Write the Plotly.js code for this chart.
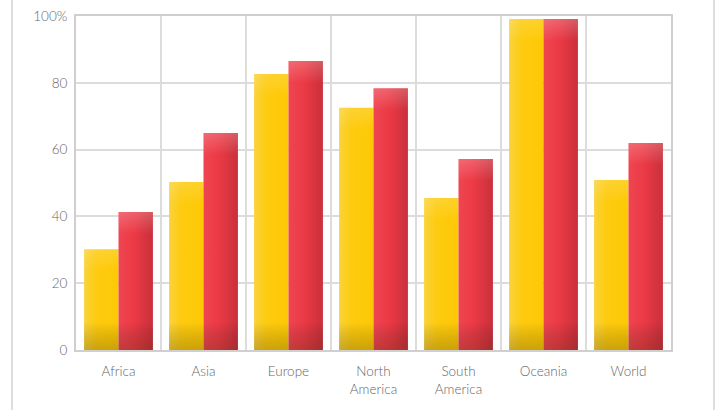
<!DOCTYPE html>
<html>
<head>
<meta charset="utf-8">
<script src="https://cdn.plot.ly/plotly-3.0.1.min.js"></script>
<style>
  html, body { margin: 0; padding: 0; background: #ffffff; }
  #wrap { position: relative; width: 717px; height: 410px; }
  #frame { position: absolute; left: 11px; top: 0; width: 700px; height: 410px;
           border-left: 2px solid #dedede; border-right: 2px solid #dedede; pointer-events: none; }
  #chart { position: absolute; left: 0; top: 0; width: 717px; height: 410px; }
</style>
</head>
<body>
<div id="wrap">
  <div id="frame"></div>
  <div id="chart"></div>
</div>
<script>
// Regions and the two percentage series
const regions = ["Africa", "Asia", "Europe", "North<br>America", "South<br>America", "Oceania", "World"];
const seriesA = [30.2, 50.3, 82.6, 72.5, 45.5, 99.1, 50.9];
const seriesB = [41.3, 65.0, 86.5, 78.4, 57.2, 99.1, 62.0];
const yTickVals = [0, 20, 40, 60, 80, 100];
const yTickText = ["0", "20", "40", "60", "80", "100%"];

const xLabelFont = { family: "Lato, 'Open Sans', sans-serif", size: 13.5, color: "#666666", weight: 300 };
const yLabelFont = { family: "Lato, 'Open Sans', sans-serif", size: 13.5, color: "#666666", weight: 300 };

const traces = [
  { type: "bar", x: regions, y: seriesA, name: "A",
    marker: { color: "#FDCB0B", line: { width: 0 } }, hoverinfo: "y" },
  { type: "bar", x: regions, y: seriesB, name: "B",
    marker: { color: "#EC3A45", line: { width: 0 } }, hoverinfo: "y" }
];

const layout = {
  width: 717, height: 410,
  margin: { l: 76, r: 46, t: 16, b: 60 },
  paper_bgcolor: "rgba(0,0,0,0)",
  plot_bgcolor: "rgba(0,0,0,0)",
  showlegend: false,
  barmode: "group",
  bargap: 0.19,
  bargroupgap: 0,
  xaxis: {
    type: "category",
    tickson: "boundaries",
    ticks: "",
    showgrid: true, gridcolor: "#dcdcdc", gridwidth: 2,
    showline: true, linecolor: "#cfcfcf", linewidth: 2, mirror: true,
    tickfont: xLabelFont,
    ticklabelstandoff: 8,
    fixedrange: true
  },
  yaxis: {
    range: [0, 100],
    tickvals: yTickVals, ticktext: yTickText,
    ticks: "",
    showgrid: true, gridcolor: "#dcdcdc", gridwidth: 2,
    zeroline: false,
    showline: true, linecolor: "#cfcfcf", linewidth: 2, mirror: true,
    tickfont: yLabelFont,
    ticklabelstandoff: 4,
    fixedrange: true
  }
};

// Glossy shading for the bars: a horizontal base gradient plus a
// top highlight / bottom shadow overlay sized to each bar.
function shadeBars(gd) {
  const svg = gd.querySelector(".main-svg");
  const NS = "http://www.w3.org/2000/svg";
  let defs = svg.querySelector("defs#barshade");
  if (!defs) { defs = document.createElementNS(NS, "defs"); defs.id = "barshade"; svg.insertBefore(defs, svg.firstChild); }

  function grad(id, attrs, stops) {
    const g = document.createElementNS(NS, "linearGradient");
    g.id = id;
    for (const k in attrs) g.setAttribute(k, attrs[k]);
    stops.forEach(s => {
      const st = document.createElementNS(NS, "stop");
      st.setAttribute("offset", s[0]);
      st.setAttribute("stop-color", s[1]);
      st.setAttribute("stop-opacity", s[2] === undefined ? 1 : s[2]);
      g.appendChild(st);
    });
    defs.appendChild(g);
  }
  grad("baseA", { x1: 0, y1: 0, x2: 1, y2: 0 },
       [[0, "#FAD33C"], [0.35, "#FDCB10"], [1, "#FDC905"]]);
  grad("baseB", { x1: 0, y1: 0, x2: 1, y2: 0 },
       [[0, "#EF4551"], [0.45, "#EB3A46"], [1, "#C9303B"]]);

  const bases = ["url(#baseA)", "url(#baseB)"];
  let n = 0;
  gd.querySelectorAll(".barlayer .trace").forEach((tr, ti) => {
    tr.querySelectorAll(".point path").forEach(p => {
      p.style.fill = bases[ti];
      const bb = p.getBBox();
      const h = bb.height;
      if (h <= 0) return;
      const id = "ov" + (n++);
      const topBand = Math.min(22 / h, 0.3);
      const botStart = Math.max(0, 1 - 28 / h);
      grad(id, { gradientUnits: "userSpaceOnUse", x1: 0, y1: bb.y, x2: 0, y2: bb.y + h },
        [[0, "#ffffff", ti === 1 ? 0.2 : 0.15], [topBand, "#ffffff", 0],
         [botStart, "#000000", 0], [1, "#3a2a00", 0.25]]);
      const ov = p.cloneNode(false);
      ov.style.fill = "url(#" + id + ")";
      ov.style.stroke = "none";
      p.parentNode.appendChild(ov);
    });
  });
}

Plotly.newPlot("chart", traces, layout, { displayModeBar: false, staticPlot: true })
  .then(gd => shadeBars(gd));
</script>
</body>
</html>
